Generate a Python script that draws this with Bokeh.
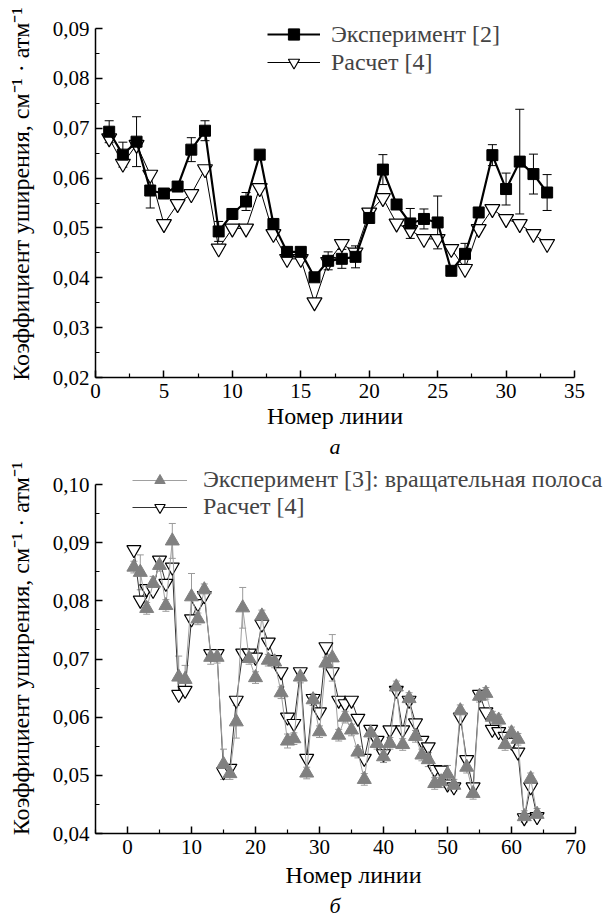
from bokeh.plotting import figure
from bokeh.models import (Range1d, FixedTicker, CustomJSTickFormatter, Legend, LegendItem,
                          Whisker, TeeHead, ColumnDataSource, Title)
from bokeh.layouts import column
from bokeh.embed import file_html
from bokeh.resources import INLINE

# ---------------- data: panel a ----------------
a_line = list(range(1, 34))
a_exp = [0.0693, 0.0647, 0.0673, 0.0575, 0.0569, 0.0583, 0.0657, 0.0695, 0.0493, 0.0528,
         0.0553, 0.0647, 0.0508, 0.0452, 0.0452, 0.0401, 0.0434, 0.0438, 0.0442, 0.0520,
         0.0617, 0.0547, 0.0509, 0.0518, 0.0511, 0.0414, 0.0448, 0.0531, 0.0646, 0.0578,
         0.0633, 0.0608, 0.0571]
a_err = [0.0022, 0.0025, 0.0050, 0.0035, 0.0005, 0.0008, 0.0024, 0.0020, 0.0020, 0.0010,
         0.0018, 0.0005, 0.0005, 0.0005, 0.0005, 0.0005, 0.0018, 0.0019, 0.0022, 0.0008,
         0.0030, 0.0008, 0.0030, 0.0020, 0.0053, 0.0008, 0.0021, 0.0010, 0.0021, 0.0032,
         0.0105, 0.0040, 0.0036]
a_calc = [0.0680, 0.0629, 0.0667, 0.0607, 0.0508, 0.0548, 0.0568, 0.0618, 0.0459, 0.0499,
          0.0499, 0.0580, 0.0488, 0.0438, 0.0438, 0.0351, 0.0432, 0.0468, 0.0451, 0.0531,
          0.0560, 0.0509, 0.0496, 0.0478, 0.0478, 0.0458, 0.0418, 0.0498, 0.0538, 0.0518,
          0.0508, 0.0488, 0.0468]

# ---------------- data: panel b ----------------
b_line = list(range(1, 65))
b_exp = [0.0858, 0.0849, 0.0787, 0.0830, 0.0861, 0.0792, 0.0903, 0.0669, 0.0665, 0.0807,
         0.0769, 0.0819, 0.0703, 0.0703, 0.0519, 0.0503, 0.0592, 0.0788, 0.0701, 0.0668,
         0.0774, 0.0698, 0.0695, 0.0642, 0.0559, 0.0563, 0.0669, 0.0504, 0.0630, 0.0575,
         0.0693, 0.0702, 0.0569, 0.0600, 0.0578, 0.0540, 0.0493, 0.0573, 0.0555, 0.0532,
         0.0555, 0.0652, 0.0553, 0.0632, 0.0567, 0.0535, 0.0527, 0.0486, 0.0489, 0.0502,
         0.0483, 0.0611, 0.0514, 0.0469, 0.0636, 0.0641, 0.0600, 0.0595, 0.0553, 0.0573,
         0.0562, 0.0429, 0.0494, 0.0433]
b_err = [0.0010, 0.0030, 0.0010, 0.0012, 0.0010, 0.0010, 0.0030, 0.0036, 0.0024, 0.0040,
         0.0010, 0.0010, 0.0012, 0.0010, 0.0026, 0.0010, 0.0028, 0.0035, 0.0010, 0.0010,
         0.0010, 0.0010, 0.0010, 0.0010, 0.0012, 0.0010, 0.0010, 0.0010, 0.0010, 0.0010,
         0.0010, 0.0040, 0.0010, 0.0010, 0.0010, 0.0010, 0.0010, 0.0010, 0.0010, 0.0010,
         0.0010, 0.0010, 0.0010, 0.0010, 0.0010, 0.0010, 0.0012, 0.0010, 0.0010, 0.0015,
         0.0010, 0.0010, 0.0010, 0.0010, 0.0010, 0.0010, 0.0010, 0.0010, 0.0010, 0.0010,
         0.0010, 0.0010, 0.0010, 0.0010]
b_calc = [0.0888, 0.0801, 0.0821, 0.0818, 0.0870, 0.0830, 0.0858, 0.0639, 0.0646, 0.0769,
          0.0795, 0.0809, 0.0709, 0.0709, 0.0506, 0.0512, 0.0629, 0.0710, 0.0710, 0.0703,
          0.0760, 0.0729, 0.0699, 0.0678, 0.0600, 0.0589, 0.0678, 0.0529, 0.0632, 0.0609,
          0.0721, 0.0678, 0.0629, 0.0623, 0.0629, 0.0598, 0.0529, 0.0579, 0.0560, 0.0537,
          0.0578, 0.0646, 0.0578, 0.0629, 0.0590, 0.0560, 0.0549, 0.0510, 0.0509, 0.0485,
          0.0480, 0.0600, 0.0527, 0.0480, 0.0639, 0.0609, 0.0579, 0.0575, 0.0567, 0.0557,
          0.0540, 0.0427, 0.0480, 0.0429]

a_xticks = [0, 5, 10, 15, 20, 25, 30, 35]
a_xminor = [2.5, 7.5, 12.5, 17.5, 22.5, 27.5, 32.5]
a_yticks = [0.02, 0.03, 0.04, 0.05, 0.06, 0.07, 0.08, 0.09]
a_yminor = [0.025, 0.035, 0.045, 0.055, 0.065, 0.075, 0.085]
b_xticks = [0, 10, 20, 30, 40, 50, 60, 70]
b_xminor = [-5, 5, 15, 25, 35, 45, 55, 65]
b_yticks = [0.04, 0.05, 0.06, 0.07, 0.08, 0.09, 0.10]
b_yminor = [0.045, 0.055, 0.065, 0.075, 0.085, 0.095]

FONT = "Liberation Serif"
XLABEL = "Номер линии"
YLABEL = "Коэффициент уширения, см⁻¹ · атм⁻¹"
yfmt = "return tick.toFixed(2).replace('.', ',');"


def style(p, xt, xm, yt, ym, xb, yb):
    p.xgrid.visible = False
    p.ygrid.visible = False
    p.outline_line_color = None
    p.xaxis[0].ticker = FixedTicker(ticks=xt, minor_ticks=xm)
    p.yaxis[0].ticker = FixedTicker(ticks=yt, minor_ticks=ym)
    p.yaxis[0].formatter = CustomJSTickFormatter(code=yfmt)
    p.xaxis[0].bounds = xb
    p.yaxis[0].bounds = yb
    for ax in (p.xaxis[0], p.yaxis[0]):
        ax.axis_line_width = 1.5
        ax.axis_line_color = "black"
        ax.major_tick_in = 7
        ax.major_tick_out = 0
        ax.minor_tick_in = 4
        ax.minor_tick_out = 0
        ax.major_tick_line_width = 1.5
        ax.minor_tick_line_width = 1.2
        ax.major_label_text_font = FONT
        ax.major_label_text_font_size = "21px"
        ax.major_label_text_color = "black"
        ax.major_label_standoff = 6
        ax.axis_label_text_font = FONT
        ax.axis_label_text_font_style = "normal"
        ax.axis_label_text_font_size = "24px"
        ax.axis_label_text_color = "black"
    p.xaxis[0].axis_label = XLABEL
    p.yaxis[0].axis_label = YLABEL
    p.yaxis[0].axis_label_standoff = 16


# ---------------- panel a ----------------
# frame reaches a little above the axis top so the legend is not clipped
A_FH = 367
pa = figure(frame_width=479, frame_height=A_FH, min_border_left=95, min_border_right=37,
            min_border_top=10, min_border_bottom=83,
            x_range=Range1d(0, 35), y_range=Range1d(0.02, 0.02 + 0.07 * A_FH / 349),
            output_backend="svg", toolbar_location=None)
style(pa, a_xticks, a_xminor, a_yticks, a_yminor, (0, 35), (0.02, 0.09))
pa.xaxis[0].axis_label_standoff = 2

src_a = ColumnDataSource(dict(x=a_line, y=a_exp,
                              up=[v + e for v, e in zip(a_exp, a_err)],
                              lo=[v - e for v, e in zip(a_exp, a_err)]))
pa.add_layout(Whisker(source=src_a, base="x", upper="up", lower="lo",
                      line_color="black", line_width=1,
                      upper_head=TeeHead(size=9, line_color="black", line_width=1),
                      lower_head=TeeHead(size=9, line_color="black", line_width=1)))
lc = pa.line(a_line, a_calc, line_color="black", line_width=1)
sc = pa.scatter(a_line, a_calc, marker="inverted_triangle", size=15, fill_color="white",
                line_color="black", line_width=1.2)
le = pa.line(a_line, a_exp, line_color="black", line_width=2.2)
se = pa.scatter(a_line, a_exp, marker="square", size=11, fill_color="black", line_color="black")

leg_a = Legend(items=[LegendItem(label="Эксперимент [2]", renderers=[le, se]),
                      LegendItem(label="Расчет [4]", renderers=[lc, sc])],
               location=(172, 301), glyph_width=53, glyph_height=28, label_height=28,
               spacing=0, padding=0, margin=0, label_standoff=11,
               border_line_color=None, background_fill_alpha=0,
               label_text_font=FONT, label_text_font_size="24px")
pa.add_layout(leg_a)
pa.add_layout(Title(text="а", align="center", text_font=FONT, text_font_style="italic",
                    text_font_size="22px", text_color="black", standoff=0), "below")

# ---------------- panel b ----------------
# frame extends beyond the axes (axis bounds limit the drawn axes) so the legend is not clipped
B_FW, B_FH = 516, 370
pb = figure(frame_width=B_FW, frame_height=B_FH, min_border_left=95, min_border_right=0,
            min_border_top=3, min_border_bottom=85,
            x_range=Range1d(-5, -5 + 75 * B_FW / 480),
            y_range=Range1d(0.04, 0.04 + 0.06 * B_FH / 349),
            output_backend="svg", toolbar_location=None)
style(pb, b_xticks, b_xminor, b_yticks, b_yminor, (-5, 70), (0.04, 0.10))
pb.xaxis[0].axis_label_standoff = 5

src_b = ColumnDataSource(dict(x=b_line, y=b_exp,
                              up=[v + e for v, e in zip(b_exp, b_err)],
                              lo=[v - e for v, e in zip(b_exp, b_err)]))
pb.add_layout(Whisker(source=src_b, base="x", upper="up", lower="lo",
                      line_color="#9a9a9a", line_width=1,
                      upper_head=TeeHead(size=7, line_color="#9a9a9a", line_width=1),
                      lower_head=TeeHead(size=7, line_color="#9a9a9a", line_width=1)))
blc = pb.line(b_line, b_calc, line_color="#333333", line_width=1)
bsc = pb.scatter(b_line, b_calc, marker="inverted_triangle", size=14, fill_color="white",
                 line_color="black", line_width=1.2)
ble = pb.line(b_line, b_exp, line_color="#a0a0a0", line_width=1)
bse = pb.scatter(b_line, b_exp, marker="triangle", size=14, fill_color="#808080",
                 line_color="#808080")

leg_b = Legend(items=[LegendItem(label="Эксперимент [3]: вращательная полоса", renderers=[ble, bse]),
                      LegendItem(label="Расчет [4]", renderers=[blc, bsc])],
               location=(37, 313), glyph_width=55, glyph_height=26, label_height=26,
               spacing=0, padding=0, margin=0, label_standoff=16,
               border_line_color=None, background_fill_alpha=0,
               label_text_font=FONT, label_text_font_size="24px")
pb.add_layout(leg_b)
pb.add_layout(Title(text="б", align="left", offset=234, text_font=FONT, text_font_style="italic",
                    text_font_size="22px", text_color="black", standoff=0), "below")

layout = column(pa, pb, spacing=0)
open("out.html", "w").write(file_html(layout, INLINE))
